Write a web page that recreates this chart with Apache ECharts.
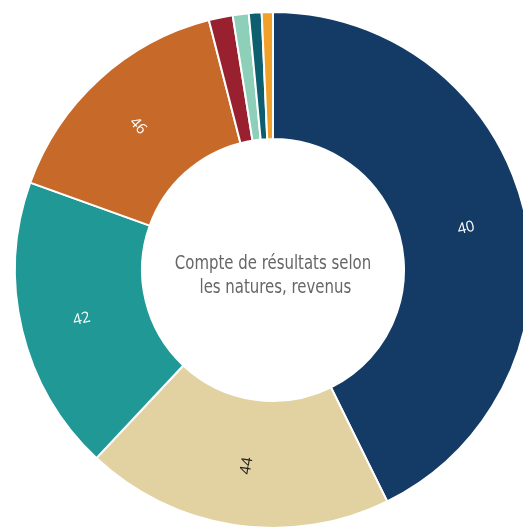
<!DOCTYPE html>
<html>
<head>
<meta charset="utf-8">
<script src="https://cdn.jsdelivr.net/npm/echarts@6/dist/echarts.min.js"></script>
<style>html,body{margin:0;padding:0;background:#fff;}#chart{width:523px;height:528px;}</style>
</head>
<body>
<div id="chart"></div>
<script>
// Account groups (revenue by nature), sorted descending, share in %
var categories = ['40', '44', '42', '46', '41', '43', '45', '48'];
var shares = [42.7, 19.3, 18.5, 15.5, 1.5, 1.0, 0.8, 0.7];
var colors = ['#143B65', '#E3D2A1', '#209896', '#C76A29', '#99212F', '#8ECFBA', '#0D5F6F', '#F1A02A'];
var labelColors = ['#ffffff', '#222222', '#ffffff', '#ffffff', '#ffffff', '#ffffff', '#ffffff', '#ffffff'];
var centerTitle = 'Compte de résultats selon\n les natures, revenus';

var chart = echarts.init(document.getElementById('chart'), null, {renderer: 'canvas'});
var data = categories.map(function (c, i) {
  return {
    name: c,
    value: shares[i],
    itemStyle: {color: colors[i]},
    label: {color: labelColors[i]}
  };
});
chart.setOption({
  animation: false,
  graphic: [{
    type: 'text',
    x: 273,
    y: 276,
    scaleX: 0.83,
    style: {
      text: centerTitle,
      x: 0, y: 0,
      textAlign: 'center',
      textVerticalAlign: 'middle',
      fill: '#666666',
      font: '20px "Liberation Sans Narrow", "DejaVu Sans Condensed", sans-serif',
      lineHeight: 24
    }
  }],
  series: [{
    type: 'pie',
    center: [273, 270],
    radius: [131, 258],
    startAngle: 90,
    clockwise: true,
    avoidLabelOverlap: false,
    minShowLabelAngle: 10,
    itemStyle: {borderColor: '#ffffff', borderWidth: 2},
    label: {
      show: true,
      position: 'inside',
      rotate: 'radial',
      formatter: '{b}',
      fontSize: 15,
      offset: [0, 3],
      fontFamily: '"Open Sans", sans-serif'
    },
    labelLine: {show: false},
    emphasis: {disabled: true},
    data: data
  }]
});
</script>
</body>
</html>
